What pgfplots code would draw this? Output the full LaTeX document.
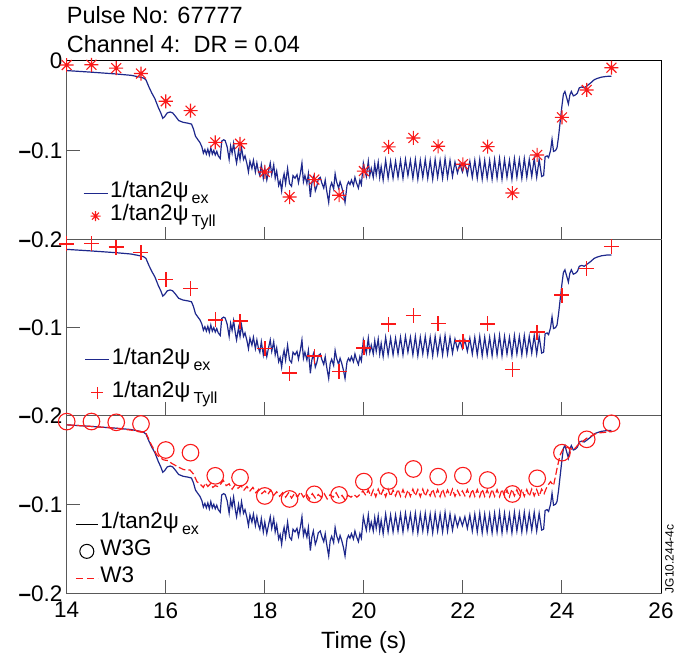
\documentclass[border=0pt]{standalone}
\usepackage{fontspec}
\setmainfont{Liberation Sans}
\usepackage{pgfplots}
\usepackage{pgfplotstable}
\pgfplotsset{compat=1.18}

\definecolor{lineblue}{RGB}{30,40,140}
\definecolor{mkred}{RGB}{250,25,25}

\pgfdeclareplotmark{ast8}{%
  \pgfpathmoveto{\pgfqpoint{-\pgfplotmarksize}{0pt}}\pgfpathlineto{\pgfqpoint{\pgfplotmarksize}{0pt}}%
  \pgfpathmoveto{\pgfqpoint{0pt}{-\pgfplotmarksize}}\pgfpathlineto{\pgfqpoint{0pt}{\pgfplotmarksize}}%
  \pgfpathmoveto{\pgfqpoint{-0.707\pgfplotmarksize}{-0.707\pgfplotmarksize}}\pgfpathlineto{\pgfqpoint{0.707\pgfplotmarksize}{0.707\pgfplotmarksize}}%
  \pgfpathmoveto{\pgfqpoint{-0.707\pgfplotmarksize}{0.707\pgfplotmarksize}}\pgfpathlineto{\pgfqpoint{0.707\pgfplotmarksize}{-0.707\pgfplotmarksize}}%
  \pgfusepathqstroke}
\pgfdeclareplotmark{plusr}{%
  \pgfpathmoveto{\pgfqpoint{-\pgfplotmarksize}{0pt}}\pgfpathlineto{\pgfqpoint{\pgfplotmarksize}{0pt}}%
  \pgfpathmoveto{\pgfqpoint{0pt}{-\pgfplotmarksize}}\pgfpathlineto{\pgfqpoint{0pt}{\pgfplotmarksize}}%
  \pgfusepathqstroke}

\pgfplotstableread{
t v
14.00 -0.0107
14.50 -0.0125
15.00 -0.0145
15.30 -0.0160
15.48 -0.0180
15.55 -0.0190
15.60 -0.0210
15.66 -0.0290
15.72 -0.0360
15.78 -0.0420
15.85 -0.0520
15.90 -0.0580
15.94 -0.0640
15.98 -0.0620
16.03 -0.0580
16.09 -0.0570
16.14 -0.0580
16.20 -0.0620
16.26 -0.0665
16.35 -0.0685
16.45 -0.0695
16.52 -0.0705
16.56 -0.0760
16.60 -0.0840
16.65 -0.0880
16.69 -0.0910
16.73 -0.0960
16.76 -0.1030
16.79 -0.0990
16.82 -0.1040
16.85 -0.0985
16.88 -0.1050
16.91 -0.0970
16.94 -0.1040
16.97 -0.1000
17.00 -0.1050
17.03 -0.1010
17.06 -0.1060
17.10 -0.1090
17.13 -0.0895
17.17 -0.0880
17.20 -0.0890
17.24 -0.0960
17.28 -0.1100
17.31 -0.0950
17.34 -0.1030
17.37 -0.0920
17.41 -0.1080
17.43 -0.1140
17.47 -0.1000
17.50 -0.1100
17.53 -0.0970
17.57 -0.1100
17.60 -0.1060
17.64 -0.1150
17.67 -0.1240
17.70 -0.1120
17.74 -0.1200
17.77 -0.1110
17.81 -0.1240
17.84 -0.1140
17.87 -0.1230
17.90 -0.1280
17.93 -0.1160
17.97 -0.1310
18.00 -0.1200
18.04 -0.1330
18.08 -0.1220
18.11 -0.1140
18.14 -0.1270
18.18 -0.1160
18.21 -0.1310
18.24 -0.1230
18.28 -0.1390
18.31 -0.1340
18.34 -0.1450
18.37 -0.1310
18.39 -0.1260
18.42 -0.1370
18.46 -0.1200
18.50 -0.1370
18.54 -0.1400
18.57 -0.1280
18.61 -0.1310
18.65 -0.1270
18.68 -0.1360
18.72 -0.1250
18.75 -0.1140
18.78 -0.1350
18.81 -0.1280
18.85 -0.1370
18.88 -0.1260
18.92 -0.1520
18.95 -0.1370
18.98 -0.1300
19.02 -0.1450
19.05 -0.1400
19.08 -0.1320
19.12 -0.1300
19.15 -0.1360
19.19 -0.1420
19.22 -0.1330
19.25 -0.1450
19.29 -0.1580
19.32 -0.1410
19.35 -0.1360
19.39 -0.1430
19.42 -0.1260
19.45 -0.1350
19.49 -0.1420
19.52 -0.1350
19.55 -0.1400
19.59 -0.1490
19.62 -0.1580
19.66 -0.1390
19.69 -0.1350
19.72 -0.1380
19.75 -0.1330
19.79 -0.1390
19.82 -0.1300
19.85 -0.1360
19.89 -0.1420
19.92 -0.1330
19.95 -0.1380
19.99 -0.1140
20.02 -0.1220
20.05 -0.1290
20.09 -0.1120
20.12 -0.1280
20.15 -0.1200
20.19 -0.1300
20.22 -0.1150
20.25 -0.1270
20.29 -0.1130
20.32 -0.1300
20.35 -0.1180
20.39 -0.1330
20.44 -0.1110
20.49 -0.1310
20.54 -0.1120
20.59 -0.1310
20.64 -0.1120
20.69 -0.1300
20.74 -0.1110
20.79 -0.1310
20.84 -0.1100
20.89 -0.1280
20.94 -0.1110
20.99 -0.1310
21.04 -0.1100
21.09 -0.1320
21.14 -0.1110
21.19 -0.1300
21.24 -0.1100
21.29 -0.1310
21.34 -0.1110
21.39 -0.1320
21.44 -0.1100
21.49 -0.1300
21.54 -0.1110
21.59 -0.1310
21.64 -0.1090
21.69 -0.1300
21.74 -0.1110
21.79 -0.1290
21.84 -0.1130
21.89 -0.1250
21.94 -0.1150
21.99 -0.1240
22.04 -0.1140
22.09 -0.1270
22.14 -0.1120
22.19 -0.1300
22.24 -0.1110
22.29 -0.1310
22.34 -0.1100
22.39 -0.1320
22.44 -0.1110
22.49 -0.1310
22.54 -0.1110
22.59 -0.1320
22.64 -0.1100
22.69 -0.1310
22.74 -0.1090
22.79 -0.1320
22.84 -0.1100
22.89 -0.1300
22.94 -0.1110
22.99 -0.1320
23.04 -0.1090
23.09 -0.1300
23.14 -0.1100
23.19 -0.1310
23.24 -0.1090
23.29 -0.1300
23.34 -0.1100
23.39 -0.1290
23.44 -0.1090
23.49 -0.1300
23.54 -0.1100
23.59 -0.1290
23.63 -0.1280
23.66 -0.1070
23.70 -0.1060
23.73 -0.1080
23.77 -0.1000
23.80 -0.0876
23.83 -0.1010
23.87 -0.1000
23.90 -0.0970
23.93 -0.0850
23.96 -0.0700
24.00 -0.0500
24.03 -0.0370
24.06 -0.0340
24.09 -0.0400
24.13 -0.0480
24.16 -0.0380
24.19 -0.0340
24.23 -0.0390
24.27 -0.0380
24.31 -0.0360
24.35 -0.0300
24.40 -0.0290
24.45 -0.0300
24.50 -0.0280
24.58 -0.0245
24.65 -0.0210
24.71 -0.0195
24.80 -0.0180
24.90 -0.0172
25.00 -0.0170
}\exdata

\pgfplotstableread{
t v
14.0 -0.0045
14.5 -0.0042
15.0 -0.0080
15.5 -0.0140
16.0 -0.0450
16.5 -0.0555
17.0 -0.0910
17.5 -0.0925
18.0 -0.1240
18.5 -0.1520
19.0 -0.1325
19.5 -0.1500
20.0 -0.1230
20.5 -0.0960
21.0 -0.0860
21.5 -0.0953
22.0 -0.1154
22.5 -0.0957
23.0 -0.1475
23.5 -0.1050
24.0 -0.0630
24.5 -0.0324
25.0 -0.0075
}\tylldata

\pgfplotstableread{
t v
14.0 -0.0071
14.5 -0.0070
15.0 -0.0079
15.5 -0.0097
16.0 -0.0390
16.5 -0.0420
17.0 -0.0680
17.5 -0.0700
18.0 -0.0906
18.5 -0.0940
19.0 -0.0888
19.5 -0.0895
20.0 -0.0745
20.5 -0.0738
21.0 -0.0603
21.5 -0.0689
22.0 -0.0678
22.5 -0.0727
23.0 -0.0884
23.5 -0.0708
24.0 -0.0420
24.5 -0.0270
25.0 -0.0090
}\wgdata

\pgfplotstableread{
t v
14.00 -0.0107
14.50 -0.0125
15.00 -0.0145
15.48 -0.0180
15.60 -0.0200
15.70 -0.0320
15.82 -0.0446
15.95 -0.0500
16.05 -0.0510
16.12 -0.0540
16.25 -0.0580
16.36 -0.0610
16.49 -0.0615
16.56 -0.0660
16.63 -0.0746
16.69 -0.0770
16.76 -0.0810
16.80 -0.0760
16.85 -0.0800
16.90 -0.0770
16.95 -0.0810
17.00 -0.0790
17.05 -0.0800
17.10 -0.0780
17.16 -0.0730
17.22 -0.0790
17.28 -0.0770
17.34 -0.0830
17.40 -0.0780
17.46 -0.0820
17.52 -0.0790
17.58 -0.0840
17.64 -0.0800
17.70 -0.0850
17.76 -0.0810
17.82 -0.0870
17.88 -0.0830
17.94 -0.0880
18.00 -0.0850
18.06 -0.0890
18.12 -0.0840
18.18 -0.0900
18.24 -0.0860
18.30 -0.0910
18.36 -0.0870
18.42 -0.0920
18.48 -0.0870
18.54 -0.0930
18.60 -0.0880
18.66 -0.0920
18.72 -0.0860
18.78 -0.0920
18.84 -0.0880
18.90 -0.0940
18.96 -0.0880
19.02 -0.0930
19.08 -0.0890
19.14 -0.0920
19.20 -0.0880
19.26 -0.0940
19.32 -0.0890
19.38 -0.0920
19.44 -0.0870
19.50 -0.0930
19.56 -0.0900
19.62 -0.0950
19.68 -0.0900
19.74 -0.0920
19.80 -0.0890
19.86 -0.0920
19.92 -0.0890
19.98 -0.0850
20.04 -0.0900
20.09 -0.0840
20.14 -0.0910
20.19 -0.0840
20.24 -0.0915
20.29 -0.0830
20.34 -0.0905
20.39 -0.0835
20.44 -0.0915
20.49 -0.0830
20.54 -0.0910
20.59 -0.0840
20.64 -0.0905
20.69 -0.0830
20.74 -0.0910
20.79 -0.0835
20.84 -0.0915
20.89 -0.0840
20.94 -0.0910
20.99 -0.0830
21.04 -0.0905
21.09 -0.0835
21.14 -0.0915
21.19 -0.0830
21.24 -0.0910
21.29 -0.0840
21.34 -0.0905
21.39 -0.0830
21.44 -0.0910
21.49 -0.0835
21.54 -0.0915
21.59 -0.0830
21.64 -0.0910
21.69 -0.0840
21.74 -0.0905
21.79 -0.0830
21.84 -0.0910
21.89 -0.0845
21.94 -0.0900
21.99 -0.0850
22.04 -0.0905
22.09 -0.0835
22.14 -0.0915
22.19 -0.0830
22.24 -0.0910
22.29 -0.0835
22.34 -0.0915
22.39 -0.0830
22.44 -0.0910
22.49 -0.0840
22.54 -0.0915
22.59 -0.0830
22.64 -0.0910
22.69 -0.0835
22.74 -0.0915
22.79 -0.0830
22.84 -0.0910
22.89 -0.0840
22.94 -0.0915
22.99 -0.0830
23.04 -0.0905
23.09 -0.0835
23.14 -0.0915
23.19 -0.0830
23.24 -0.0910
23.29 -0.0835
23.34 -0.0910
23.39 -0.0830
23.44 -0.0905
23.49 -0.0835
23.54 -0.0910
23.59 -0.0830
23.64 -0.0880
23.70 -0.0800
23.77 -0.0745
23.83 -0.0790
23.90 -0.0600
23.96 -0.0450
24.03 -0.0370
24.13 -0.0360
24.23 -0.0390
24.33 -0.0330
24.50 -0.0258
24.71 -0.0200
24.94 -0.0187
25.00 -0.0185
}\wdata

\newcommand{\sub}[1]{\hspace{3pt}\raisebox{-6pt}{\fontsize{16}{16}\selectfont #1}}
\newcommand{\bigf}{\fontsize{22.5}{26}\selectfont}
\newcommand{\mn}{\textbf{–}}

\pgfplotsset{
  panel/.style={
    scale only axis, width=594.3pt, xmin=14, xmax=26, ymin=-0.2, ymax=0,
    clip=false, anchor=south west,
    axis line style={black!65, line width=1pt},
    tick align=inside, major tick length=13pt,
    tick style={black!65, line width=1pt},
    xtick pos=left, ytick pos=left,
    ytick={-0.2,-0.1,0},
    xtick={16,18,20,22,24}, xticklabels={},
    tick label style={font=\bigf, inner sep=1pt},
    yticklabel style={xshift=-3pt},
    xticklabel style={yshift=-8pt},
    legend cell align=left,
    legend image code/.code={\draw[##1] (0pt,0pt) -- (24pt,0pt);},
    legend style={draw=none, fill=none, inner sep=0pt, anchor=north west,
      font=\bigf, column sep=2pt,
      nodes={inner sep=0pt, text height=16pt, text depth=7pt}},
  },
  exline/.style={lineblue, line width=1.2pt},
}

\begin{document}
\begin{tikzpicture}
\useasboundingbox (-66.7pt,-62.7pt) rectangle (608.3pt,593.3pt);

% ---------- panel 1 ----------
\begin{axis}[panel, at={(0pt,353.3pt)}, height=179pt,
  yticklabels={\mn0.2,\mn0.1,0},
  legend style={at={(axis description cs:0.027,0.327)}, row sep=0pt}]
\addlegendimage{exline}
\addlegendentry{1/tan2ψ\sub{ex}}
\addlegendimage{legend image code/.code={\draw[mkred, line width=1.1pt] plot[only marks, mark=ast8, mark size=5pt] coordinates {(12pt,0pt)};}}
\addlegendentry{1/tan2ψ\sub{Tyll}}
\addplot[exline, forget plot] table[x=t,y=v] {\exdata};
\addplot[only marks, mark=ast8, mark size=7pt, color=mkred, line width=1.1pt, mark options={draw=mkred}, forget plot] table[x=t,y=v] {\tylldata};
\draw[black, line width=1pt] (rel axis cs:0,1) -- (rel axis cs:1,1) -- (rel axis cs:1,0);
\node[anchor=base west, inner sep=0pt, font=\fontsize{23.5}{26}\selectfont, yshift=37.7pt] at (rel axis cs:0,1) {Pulse No: 67777};
\node[anchor=base west, inner sep=0pt, font=\fontsize{23.5}{26}\selectfont, yshift=8.3pt] at (rel axis cs:0,1) {Channel 4:\ \ DR = 0.04};
\end{axis}

% ---------- panel 2 ----------
\begin{axis}[panel, at={(0pt,178pt)}, height=175.3pt,
  yticklabels={\mn0.2,\mn0.1,{}},
  legend style={at={(axis description cs:0.03,0.384)}, row sep=10pt}]
\addlegendimage{exline}
\addlegendentry{1/tan2ψ\sub{ex}}
\addlegendimage{legend image code/.code={\draw[mkred, line width=1.5pt] plot[only marks, mark=plusr, mark size=6pt] coordinates {(12pt,0pt)};}}
\addlegendentry{1/tan2ψ\sub{Tyll}}
\addplot[exline, forget plot] table[x=t,y=v] {\exdata};
\addplot[only marks, mark=plusr, mark size=7.5pt, color=mkred, line width=1.5pt, mark options={draw=mkred}, forget plot] table[x=t,y=v] {\tylldata};
\draw[black, line width=1pt] (rel axis cs:1,1) -- (rel axis cs:1,0);
\end{axis}

% ---------- panel 3 ----------
\begin{axis}[panel, at={(0pt,0pt)}, height=178pt,
  yticklabels={\mn0.2,\mn0.1,{}},
  xtick={14,16,18,20,22,24,26}, xticklabels={14,16,18,20,22,24,26},
  xlabel={Time (s)},
  xlabel style={font=\fontsize{23.5}{26}\selectfont, at={(axis description cs:0.5,0)}, anchor=north, inner sep=0pt, yshift=-38pt},
  legend image code/.code={\draw[#1] (0pt,0pt) -- (22pt,0pt);},
  legend style={at={(axis description cs:0.014,0.453)}, row sep=4pt}]
\addlegendimage{black, line width=1.2pt}
\addlegendentry{1/tan2ψ\sub{ex}}
\addlegendimage{legend image code/.code={\draw[black, line width=1pt] plot[only marks, mark=o, mark size=7pt] coordinates {(11pt,0pt)};}}
\addlegendentry{W3G}
\addlegendimage{mkred, line width=1.2pt, dash pattern=on 7pt off 4pt}
\addlegendentry{W3}
\addplot[exline, forget plot] table[x=t,y=v] {\exdata};
\addplot[mkred, line width=1.2pt, dash pattern=on 7pt off 3pt, forget plot] table[x=t,y=v] {\wdata};
\addplot[only marks, mark=o, mark size=8.3pt, color=mkred, line width=1.1pt, mark options={draw=mkred}, forget plot] table[x=t,y=v] {\wgdata};
\draw[black, line width=1pt] (rel axis cs:1,1) -- (rel axis cs:1,0);
\node[rotate=90, anchor=north west, inner sep=0pt, font=\fontsize{12}{14}\selectfont] at (rel axis cs:1.007,0) {JG10.244-4c};
\end{axis}
\end{tikzpicture}
\end{document}
